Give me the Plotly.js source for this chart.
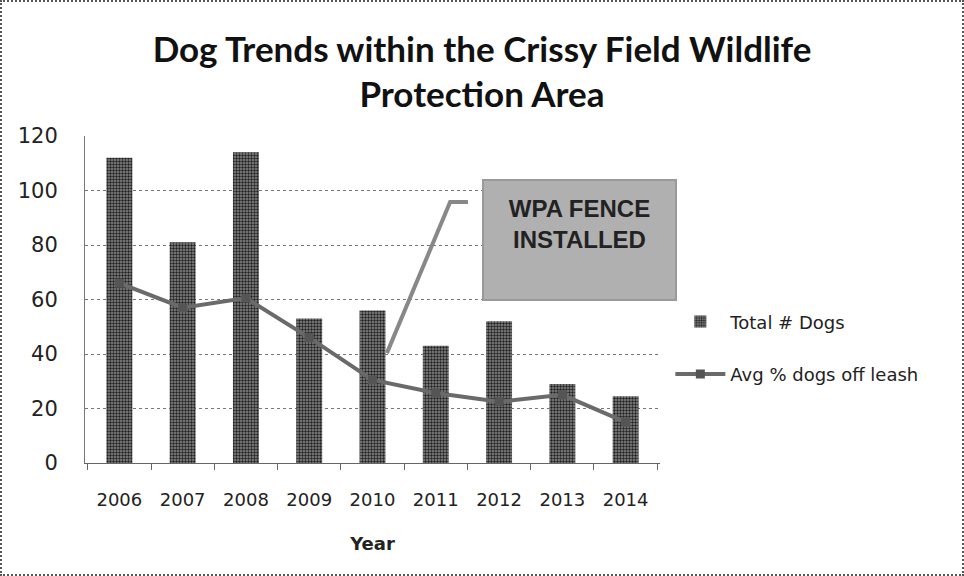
<!DOCTYPE html>
<html><head><meta charset="utf-8">
<script src="https://cdn.plot.ly/plotly-3.0.1.min.js"></script>
<style>
body{margin:0;padding:0;background:#fff;}
#wrap{position:relative;width:964px;height:576px;}
#frame{position:absolute;left:0;top:0;width:964px;height:576px;box-sizing:border-box;border:2px dotted #555;pointer-events:none;}
</style></head>
<body>
<div id="wrap"><div id="chart" style="width:964px;height:576px;"></div><div id="frame"></div></div>
<script>
const years = ['2006','2007','2008','2009','2010','2011','2012','2013','2014'];
const totalDogs = [112, 81, 114, 53, 56, 43, 52, 29, 24.5];
const avgOffLeash = [66, 57, 60.5, 46, 30.5, 25.7, 22.5, 25, 15];
const annotationText = 'WPA FENCE<br>INSTALLED';

const traces = [
  {type:'bar', x:years, y:totalDogs, name:'Total # Dogs', legendgroup:'a',
   marker:{color:'#5a5a5a', pattern:{shape:'.', fgcolor:'#222', bgcolor:'#8a8a8a', size:3, solidity:0.5}}},
  {type:'scatter', mode:'lines+markers', x:years, y:avgOffLeash, name:'Avg % dogs off leash', legendgroup:'b',
   line:{color:'#6a6a6a', width:4}, marker:{symbol:'square', size:9, color:'#555'}}
];
const layout = {
  width:964, height:576,
  margin:{l:85, r:304, t:136, b:113},
  paper_bgcolor:'#fff', plot_bgcolor:'#fff',
  font:{family:'"DejaVu Sans", sans-serif', color:'#222', size:18},
  title:{text:'<b>Dog Trends within the Crissy Field Wildlife<br>Protection Area</b>',
         font:{size:35, color:'#111', family:'Lato, "Liberation Sans", sans-serif'},
         x:0.5, xanchor:'center', y:0.893, yanchor:'top'},
  bargap:0.59,
  xaxis:{type:'category', title:{text:'<b>Year</b>', font:{size:18, color:'#222'}, standoff:28},
         showgrid:false, ticks:'outside', tickson:'boundaries', ticklen:6, tickcolor:'#666',
         showline:true, linecolor:'#666', linewidth:1, ticklabelstandoff:20,
         tickfont:{size:18, color:'#222'}},
  yaxis:{range:[0,120], dtick:20, showgrid:true, gridcolor:'#777', griddash:'dot', gridwidth:1,
         zeroline:false, showline:true, linecolor:'#777', ticks:'', ticklabelstandoff:22,
         tickfont:{size:21, color:'#222'}},
  legend:{x:1.018, y:0.488, xanchor:'left', yanchor:'top', font:{size:18, color:'#222'},
          tracegroupgap:26, itemwidth:50},
  shapes:[
    {type:'path', xref:'paper', yref:'paper', path:'M 0.525 0.336 L 0.635 0.798 L 0.666 0.798',
     line:{color:'#888', width:4}}
  ],
  annotations:[
    {xref:'paper', yref:'paper', x:0.86, y:0.682, xanchor:'center', yanchor:'middle',
     text:'<b>'+annotationText+'</b>', showarrow:false, width:163, height:90, valign:'top', borderpad:14,
     bgcolor:'#b0b0b0', bordercolor:'#999', borderwidth:2,
     font:{family:'"Liberation Sans Narrow", "Liberation Sans", Arial, sans-serif', size:24, color:'#222'}}
  ]
};
Plotly.newPlot('chart', traces, layout, {displayModeBar:false, staticPlot:true});
</script>
</body></html>
